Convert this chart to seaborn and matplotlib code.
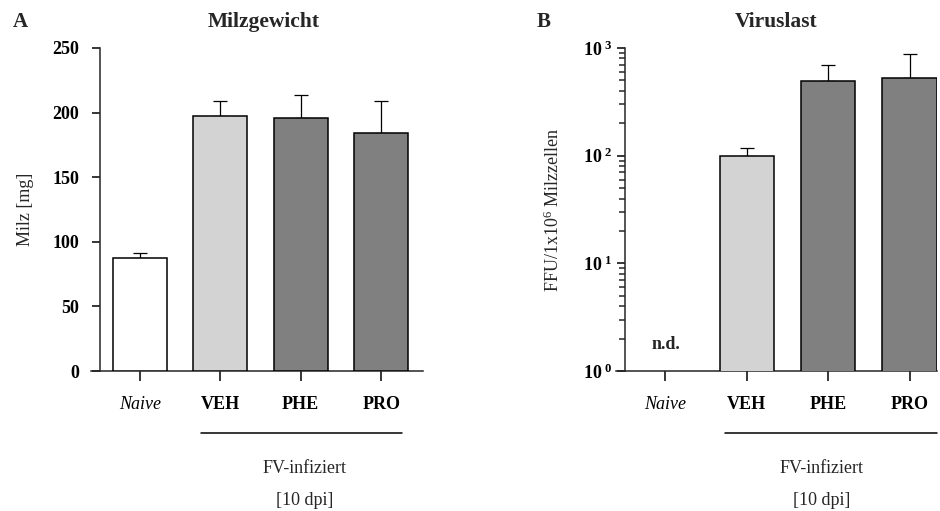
import numpy as np
import matplotlib
matplotlib.use("Agg")
import matplotlib.pyplot as plt
import seaborn as sns

# --- Daten ---
gruppen = ["Naive", "VEH", "PHE", "PRO"]
farben = ["#ffffff", "#d3d3d3", "#808080", "#808080"]

milz_mittel = [87.1, 197.5, 196.2, 184.3]
milz_sem = [4.0, 11.7, 17.4, 24.9]

virus_mittel = [np.nan, 100.0, 496.0, 529.0]
virus_sem = [np.nan, 18.0, 202.0, 348.0]

milz_ticks = [0, 50, 100, 150, 200, 250]
virus_ticks = [1, 10, 100, 1000]
virus_ticklabels = [r"$\mathbf{10^{\ 0}}$", r"$\mathbf{10^{\ 1}}$",
                    r"$\mathbf{10^{\ 2}}$", r"$\mathbf{10^{\ 3}}$"]

sns.set_style("ticks")
plt.rcParams["font.family"] = ["Liberation Serif", "DejaVu Serif"]
plt.rcParams["mathtext.fontset"] = "custom"
plt.rcParams["mathtext.rm"] = "Liberation Serif"
plt.rcParams["mathtext.bf"] = "Liberation Serif:bold"
plt.rcParams["mathtext.it"] = "Liberation Serif:italic"

TICK_FS = 13
fig = plt.figure(figsize=(9.4, 5.11), dpi=100)
ax_a = fig.add_axes([91 / 940, 140 / 511, 332 / 940, 323 / 511])
ax_b = fig.add_axes([616 / 940, 140 / 511, 321 / 940, 323 / 511])

LW = 1.1


def balken(ax, mittel, sem, farben_liste):
    df_x = [g for g, m in zip(gruppen, mittel) if not np.isnan(m)]
    df_y = [m for m in mittel if not np.isnan(m)]
    df_c = [c for c, m in zip(farben_liste, mittel) if not np.isnan(m)]
    sns.barplot(x=df_x, y=df_y, hue=df_x, palette=df_c, order=gruppen,
                hue_order=df_x, width=0.67, edgecolor="black",
                linewidth=LW, errorbar=None, legend=False, ax=ax, zorder=3)
    pos = np.arange(len(gruppen))
    m = np.array(mittel, dtype=float)
    s = np.array(sem, dtype=float)
    ok = ~np.isnan(m)
    ax.errorbar(pos[ok], m[ok], yerr=[np.zeros(ok.sum()), s[ok]], fmt="none",
                ecolor="black", elinewidth=0.9, capsize=4.7, capthick=0.9,
                zorder=2)


def achsen_stil(ax, xlim, spine_x):
    # spine position zuerst setzen (setzt die Ticks zurueck)
    ax.set_xlim(*xlim)
    ax.spines["left"].set_position(("data", spine_x))
    ax.spines["right"].set_visible(False)
    ax.spines["top"].set_visible(False)
    for s in ["left", "bottom"]:
        ax.spines[s].set_linewidth(LW)
    ax.tick_params(axis="both", which="major", length=6, width=LW,
                   direction="out", colors="black", labelsize=TICK_FS)
    ax.tick_params(axis="x", which="major", length=7, pad=11)
    ax.set_xticks(range(len(gruppen)))
    ax.set_xticklabels(gruppen)
    for lbl in ax.get_xticklabels():
        if lbl.get_text() == "Naive":
            lbl.set_fontstyle("italic")
            lbl.set_fontweight("normal")
        else:
            lbl.set_fontweight("bold")
        lbl.set_fontsize(TICK_FS)
    ax.set_xlabel("")


# --- Panel A: Milzgewicht ---
balken(ax_a, milz_mittel, milz_sem, farben)
achsen_stil(ax_a, (-0.606, 3.52), -0.494)
ax_a.set_ylim(0, 250)
ax_a.set_yticks(milz_ticks)
ax_a.set_yticklabels([str(t) for t in milz_ticks], fontweight="bold",
                     fontsize=TICK_FS)
ax_a.tick_params(axis="y", pad=9)
ax_a.set_ylabel("Milz [mg]", fontsize=13, labelpad=13)
ax_a.text(0.52, 1.08, "Milzgewicht", transform=ax_a.transAxes,
          ha="center", va="center", fontsize=15.5, fontweight="bold")

# --- Panel B: Viruslast ---
balken(ax_b, virus_mittel, virus_sem, farben)
achsen_stil(ax_b, (-0.608, 3.337), -0.498)
ax_b.set_yscale("log")
ax_b.set_ylim(1, 1000)
ax_b.set_yticks(virus_ticks)
ax_b.set_yticklabels(virus_ticklabels, fontsize=TICK_FS)
ax_b.yaxis.set_minor_locator(matplotlib.ticker.LogLocator(base=10, subs=np.arange(2, 10)))
ax_b.yaxis.set_minor_formatter(matplotlib.ticker.NullFormatter())
ax_b.tick_params(axis="y", which="major", length=6, width=LW)
ax_b.tick_params(axis="y", which="minor", length=4.5, width=LW)
ax_b.set_ylabel(r"FFU/1x10$^{6}$ Milzzellen", fontsize=13, labelpad=14)
ax_b.text(0.5, 1.08, "Viruslast", transform=ax_b.transAxes,
          ha="center", va="center", fontsize=15.5, fontweight="bold")
ax_b.text(0, 1.75, "n.d.", ha="center", va="center", fontsize=TICK_FS,
          fontweight="bold")

# --- Klammern: FV-infiziert ---
for ax, x0, x1, xm in [(ax_a, 0.76, 3.26, 2.05), (ax_b, 0.73, 3.337, 1.92)]:
    trans = matplotlib.transforms.blended_transform_factory(ax.transData, ax.transAxes)
    ax.plot([x0, x1], [-0.191, -0.191], color="black", lw=LW,
            transform=trans, clip_on=False)
    ax.text(xm, -0.303, "FV-infiziert", transform=trans, ha="center",
            va="center", fontsize=13)
    ax.text(xm, -0.40, "[10 dpi]", transform=trans, ha="center",
            va="center", fontsize=13)

fig.text(13 / 940, 1 - 22 / 511, "A", ha="left", va="center",
         fontsize=15, fontweight="bold")
fig.text(537 / 940, 1 - 22 / 511, "B", ha="left", va="center",
         fontsize=15, fontweight="bold")

fig.savefig("out.png", dpi=100)
